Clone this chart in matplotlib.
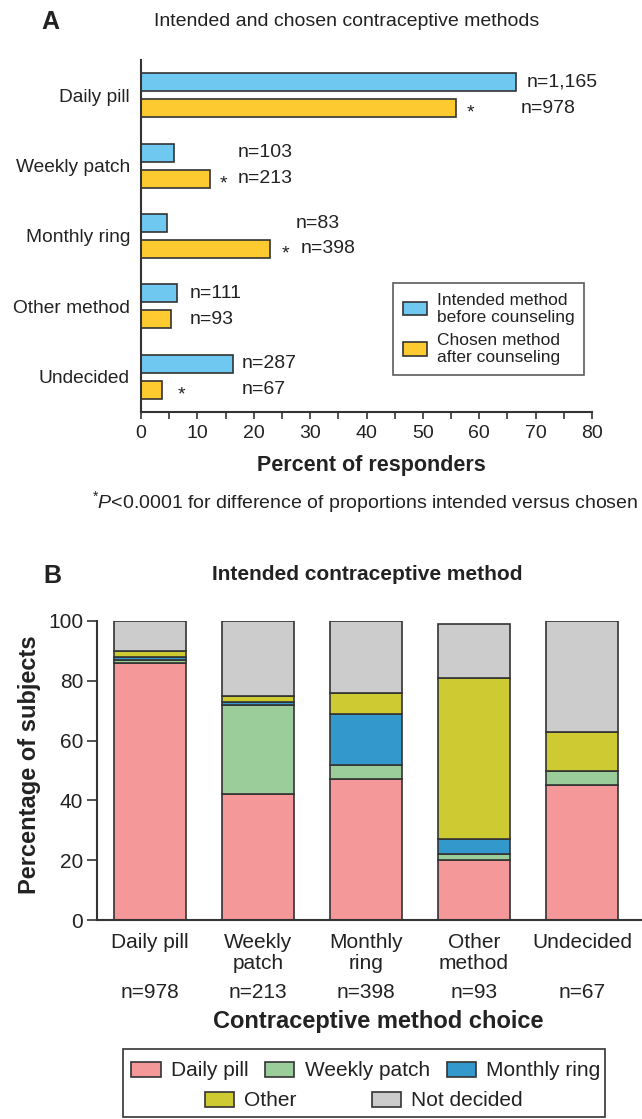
import matplotlib
matplotlib.use("Agg")
import numpy as np
import matplotlib.pyplot as plt
from matplotlib.patches import Patch, Rectangle
from matplotlib.transforms import blended_transform_factory

plt.rcParams["font.family"] = ["Liberation Sans", "DejaVu Sans"]
plt.rcParams["mathtext.fontset"] = "custom"
plt.rcParams["mathtext.rm"] = "Liberation Sans"
plt.rcParams["mathtext.it"] = "Liberation Sans:italic"

# ---- panel A: intended vs chosen method (percent of responders) ----
methods = ["Daily pill", "Weekly patch", "Monthly ring", "Other method", "Undecided"]
intended_pct = [66.6, 5.9, 4.7, 6.3, 16.4]
chosen_pct = [55.9, 12.2, 22.8, 5.3, 3.8]
intended_n = [1165, 103, 83, 111, 287]
chosen_n = [978, 213, 398, 93, 67]
significant = [True, True, True, False, True]

# where the n= labels and asterisks sit along the x axis
intended_label_x = [68.5, 17.2, 27.5, 8.7, 17.9]
chosen_label_x = [67.4, 17.2, 28.4, 8.7, 17.9]
star_x = [58.4, 14.7, 25.7, None, 7.1]

# ---- panel B: intended method broken down by final choice ----
choice_labels = ["Daily pill", "Weekly\npatch", "Monthly\nring", "Other\nmethod", "Undecided"]
choice_n = [978, 213, 398, 93, 67]
stack_names = ["Daily pill", "Weekly patch", "Monthly ring", "Other", "Not decided"]
pct_pill = [86, 42, 47, 20, 45]
pct_patch = [1, 30, 5, 2, 5]
pct_ring = [1, 1, 17, 5, 0]
pct_other = [2, 2, 7, 54, 13]
pct_undecided = [10, 25, 24, 18, 37]

BLUE = "#6ec8f0"
YELLOW = "#fdca30"
EDGE = "#333333"
TXT = "#222222"
stack_colors = ["#f4989a", "#9bcd9b", "#3399cc", "#cdca32", "#cccccc"]

W, H = 642, 1119
fig = plt.figure(figsize=(W / 100, H / 100), dpi=100)


def fx(px):
    return px / W


def fy(py):
    return 1 - py / H


# ================= panel A =================
axA = fig.add_axes([fx(141), fy(412), fx(592) - fx(141), fy(60) - fy(412)])
y = np.arange(len(methods))
off, bh = 0.184, 0.255
axA.barh(y - off, intended_pct, height=bh, color=BLUE, edgecolor=EDGE, lw=1.2,
         label="Intended method\nbefore counseling")
axA.barh(y + off, chosen_pct, height=bh, color=YELLOW, edgecolor=EDGE, lw=1.2,
         label="Chosen method\nafter counseling")

for i in range(len(methods)):
    axA.text(intended_label_x[i], y[i] - off, f"n={intended_n[i]:,}", fontsize=14,
             va="center", ha="left", color=TXT)
    axA.text(chosen_label_x[i], y[i] + off, f"n={chosen_n[i]:,}", fontsize=14,
             va="center", ha="left", color=TXT)
    if significant[i]:
        axA.text(star_x[i], y[i] + off + 0.07, "*", fontsize=14, va="center",
                 ha="center", color=TXT)

axA.set_xlim(0, 80)
axA.set_ylim(len(methods) - 0.5, -0.5)
axA.set_yticks(y)
axA.set_yticklabels(methods, fontsize=13.8, color=TXT)
axA.tick_params(axis="y", length=0, pad=8)
axA.set_xticks(np.arange(0, 81, 10))
axA.set_xticks(np.arange(5, 80, 10), minor=True)
axA.tick_params(axis="x", which="both", direction="out", length=5, width=1.2,
                color=EDGE, labelsize=14, labelcolor=TXT, pad=4)
for s in ["top", "right"]:
    axA.spines[s].set_visible(False)
for s in ["left", "bottom"]:
    axA.spines[s].set_linewidth(1.5)
    axA.spines[s].set_color(EDGE)
axA.text(0.51, -0.153, "Percent of responders", transform=axA.transAxes,
         fontsize=15.5, fontweight="bold", ha="center", va="center", color=TXT)

legA = axA.legend(loc="upper left", bbox_to_anchor=(fx(393), fy(283)),
                  bbox_transform=fig.transFigure, fontsize=12.5, frameon=True,
                  fancybox=False, edgecolor=EDGE, handlelength=1.4,
                  handleheight=0.8, handletextpad=0.6, labelspacing=0.45,
                  borderpad=0.55, borderaxespad=0)
legA.get_frame().set_linewidth(1.2)
for t in legA.get_texts():
    t.set_color(TXT)

fig.text(fx(50), fy(22), "A", fontsize=18, fontweight="bold", ha="center",
         va="center", color=TXT)
fig.text(fx(347), fy(22), "Intended and chosen contraceptive methods", fontsize=14,
         ha="center", va="center", color=TXT)
fig.text(fx(365), fy(502),
         r"$^{*}\mathit{P}$<0.0001 for difference of proportions intended versus chosen",
         fontsize=14, ha="center", va="center", color=TXT)

# ================= panel B =================
axB = fig.add_axes([fx(97), fy(920), 1 - fx(97), fy(621) - fy(920)])
x = np.arange(len(choice_labels))
bottom = np.zeros(len(x))
for vals, name, col in zip([pct_pill, pct_patch, pct_ring, pct_other, pct_undecided],
                           stack_names, stack_colors):
    axB.bar(x, vals, bottom=bottom, width=0.667, color=col, edgecolor=EDGE,
            lw=1.2, label=name)
    bottom += np.array(vals)

axB.set_xlim(-0.4907, -0.4907 + 545 / 108)
axB.set_ylim(0, 100)
axB.set_yticks(np.arange(0, 101, 20))
axB.tick_params(axis="y", direction="out", length=7, width=1.2, color=EDGE,
                labelsize=15, labelcolor=TXT, pad=3)
axB.set_xticks(x)
axB.set_xticklabels(choice_labels, fontsize=15, color=TXT, linespacing=1.15)
axB.tick_params(axis="x", length=0, pad=9)
for s in ["top", "right"]:
    axB.spines[s].set_visible(False)
for s in ["left", "bottom"]:
    axB.spines[s].set_linewidth(1.5)
    axB.spines[s].set_color(EDGE)

tr = blended_transform_factory(axB.transData, axB.transAxes)
for xi, n in zip(x, choice_n):
    axB.text(xi, -0.241, f"n={n}", transform=tr, fontsize=15, ha="center",
             va="center", color=TXT)
axB.text(0.516, -0.338, "Contraceptive method choice", transform=axB.transAxes,
         fontsize=17, fontweight="bold", ha="center", va="center", color=TXT)
axB.text(-0.123, 0.518, "Percentage of subjects", transform=axB.transAxes,
         rotation=90, fontsize=17, fontweight="bold", ha="center", va="center",
         color=TXT)

fig.text(fx(52), fy(576), "B", fontsize=18, fontweight="bold", ha="center",
         va="center", color=TXT)
fig.text(fx(367), fy(574), "Intended contraceptive method", fontsize=15,
         fontweight="bold", ha="center", va="center", color=TXT)

# legend for B: box with two rows (3 + 2 entries)
handles = [Patch(facecolor=c, edgecolor=EDGE, lw=1.2) for c in stack_colors]
leg_kw = dict(fontsize=15, frameon=False, handlelength=1.4, handleheight=0.7,
              handletextpad=0.5, columnspacing=0.8, borderpad=0, borderaxespad=0,
              bbox_transform=fig.transFigure, loc="center")
leg1 = fig.legend(handles[:3], stack_names[:3], ncol=3,
                  bbox_to_anchor=(fx(366), fy(1071)), **leg_kw)
leg2 = fig.legend(handles[3:], stack_names[3:], ncol=2,
                  bbox_to_anchor=(fx(364), fy(1101)), **dict(leg_kw, columnspacing=3.6))
for lg in (leg1, leg2):
    for t in lg.get_texts():
        t.set_color(TXT)
fig.patches.append(Rectangle((fx(123), fy(1117)), fx(605) - fx(123), fy(1049) - fy(1117),
                             transform=fig.transFigure, fill=False, edgecolor=EDGE,
                             lw=1.2))

fig.savefig("out.png", dpi=100, facecolor="white")
